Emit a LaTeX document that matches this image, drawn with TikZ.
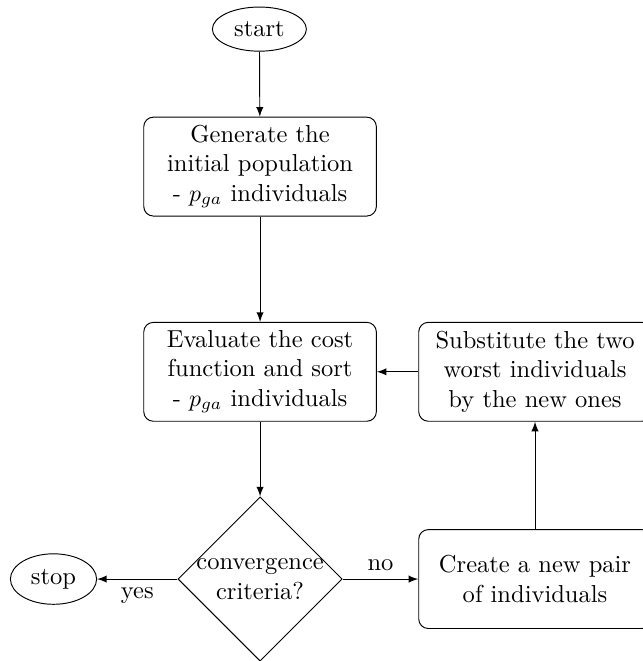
\documentclass[tikz,border=0pt]{standalone}
\usetikzlibrary{shapes.geometric}
\begin{document}
\begin{tikzpicture}[
	every node/.style={font=\fontsize{10.3}{12.3}\selectfont},
	block/.style={draw, rectangle, rounded corners, text width=3.2cm, align=center, minimum height=1.46cm},
	terminal/.style={draw, ellipse},
	decision/.style={draw, diamond, aspect=1, inner sep=-0.4pt, align=center},
	flow/.style={draw, -latex}]

	\useasboundingbox (0,0) rectangle (9.48,-9.76);

	\node[terminal] (start) at (3.83,-0.43) {start};

	\node[block] (init) at (3.84,-2.46) {Generate the\\ initial population\\ - $p_{ga}$ individuals};

	\node[block] (eval) at (3.84,-5.49) {Evaluate the cost\\ function and sort\\ - $p_{ga}$ individuals};

	\node[decision] (conv) at (3.84,-8.55) {convergence\\ criteria?};

	\node[terminal] (stop) at (0.79,-8.55) {stop};

	\node[block] (pair) at (7.90,-8.55) {Create a new pair\\ of individuals};

	\node[block] (subst) at (7.90,-5.49) {Substitute the two\\ worst individuals\\ by the new ones};

	\draw[flow] (start) -- (init);
	\draw[flow] (init) -- (eval);
	\draw[flow] (eval) -- (conv);
	\draw[flow] (conv) -- node[below] {yes} (stop);
	\draw[flow] (conv) -- node[above] {no} (pair);
	\draw[flow] (pair) -- (subst);
	\draw[flow] (subst) -- (eval);
\end{tikzpicture}
\end{document}
